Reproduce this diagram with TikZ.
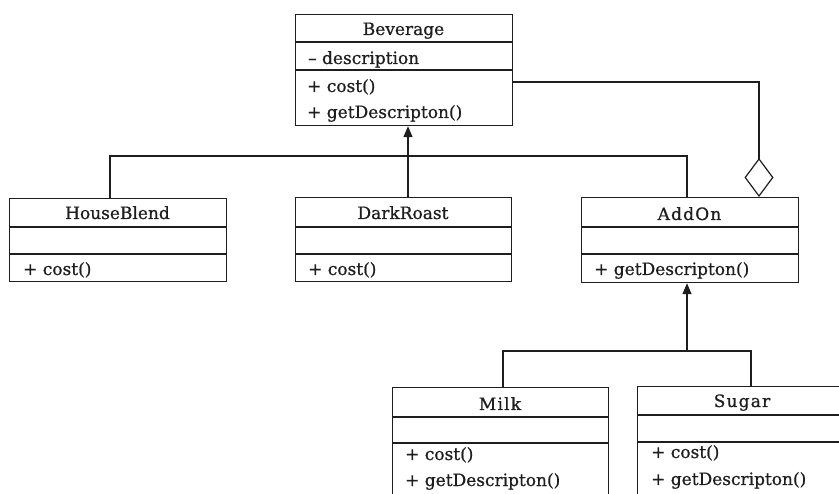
\documentclass[tikz,border=0pt]{standalone}
\usepackage{fontspec}
\setmainfont{DejaVu Serif}[FakeBold=0.8]
\usetikzlibrary{arrows.meta}

\definecolor{ink}{HTML}{1E1E1E}

\tikzset{
  umlbox/.style={draw=ink, line width=1.2pt, rectangle, anchor=north west, inner sep=0pt},
  sep/.style={draw=ink, line width=1.2pt},
  ttl/.style={anchor=base, inner sep=0pt, text=ink, font=\fontsize{17}{20}\selectfont},
  ttlsp/.style={anchor=base, inner sep=0pt, text=ink, font=\fontsize{17}{20}\selectfont\addfontfeature{LetterSpace=7}},
  mem/.style={anchor=base west, inner sep=0pt, text=ink, font=\fontsize{17}{20}\selectfont},
  conn/.style={draw=ink, line width=1.2pt},
  inh/.style={conn, -{Triangle[width=9pt,length=11pt]}},
  agg/.style={conn, -{Diamond[open,width=29pt,length=39pt]}}
}

\begin{document}
\begin{tikzpicture}[x=1pt,y=-1pt]
\useasboundingbox (0,0) rectangle (839,494);
\clip (0,0) rectangle (839,494);
\fill[white] (0,0) rectangle (839,494);

% Beverage
\node[umlbox, minimum width=217pt, minimum height=111pt] (bev) at (295,14) {};
\draw[sep] (295,42) -- (512,42);
\draw[sep] (295,70) -- (512,70);
\node[ttl] (bevt) at (403.5,35) {Beverage};
\node[mem] (bevm1) at (308,64) {\textendash\ description};
\node[mem] (bevm2) at (307,92) {+ cost()};
\node[mem] (bevm3) at (307,118) {+ getDescripton()};

% HouseBlend
\node[umlbox, minimum width=217pt, minimum height=83pt] (hb) at (9,198) {};
\draw[sep] (9,227) -- (226,227);
\draw[sep] (9,254) -- (226,254);
\node[ttl] (hbt) at (117.5,219) {HouseBlend};
\node[mem] (hbm1) at (23,275) {+ cost()};

% DarkRoast
\node[umlbox, minimum width=216pt, minimum height=84pt] (dr) at (295,197) {};
\draw[sep] (295,227) -- (511,227);
\draw[sep] (295,254) -- (511,254);
\node[ttl] (drt) at (403,219) {DarkRoast};
\node[mem] (drm1) at (308,275) {+ cost()};

% AddOn
\node[umlbox, minimum width=217pt, minimum height=85pt] (ao) at (581,197) {};
\draw[sep] (581,227) -- (798,227);
\draw[sep] (581,254) -- (798,254);
\node[ttlsp] (aot) at (689.5,220) {AddOn};
\node[mem] (aom1) at (594,275) {+ getDescripton()};

% Milk
\node[umlbox, minimum width=216pt, minimum height=130pt] (milk) at (392,387) {};
\draw[sep] (392,417) -- (608,417);
\draw[sep] (392,443) -- (608,443);
\node[ttlsp] (milkt) at (500,410) {Milk};
\node[mem] (milkm1) at (405,460) {+ cost()};
\node[mem] (milkm2) at (405,486) {+ getDescripton()};

% Sugar
\node[umlbox, minimum width=216pt, minimum height=130pt] (sug) at (637,386) {};
\draw[sep] (637,415) -- (853,415);
\draw[sep] (637,442) -- (853,442);
\node[ttlsp] (sugt) at (742,407) {Sugar};
\node[mem] (sugm1) at (651,458) {+ cost()};
\node[mem] (sugm2) at (651,485) {+ getDescripton()};

% Junction points of the connectors
\coordinate (hbj) at (110,156);
\coordinate (bevj) at (408,156);
\coordinate (aoj) at (687,156);
\coordinate (aggc) at (759,82);
\coordinate (subj) at (687,351);
\coordinate (milkj) at (503,351);
\coordinate (sugj) at (751,351);

% Generalisation: Beverage subclasses
\draw[conn] (hb.north -| hbj) -- (hbj) -- (aoj) -- (ao.north -| aoj);
\draw[conn] (dr.north -| bevj) -- (bevj);
\draw[inh] (bevj) -- (bev.south -| bevj);

% Aggregation: AddOn holds a Beverage
\draw[agg] (bev.east |- aggc) -- (aggc) -- (ao.north -| aggc);

% Generalisation: AddOn subclasses
\draw[conn] (milk.north -| milkj) -- (milkj) -- (sugj) -- (sug.north -| sugj);
\draw[inh] (subj) -- (ao.south -| subj);
\end{tikzpicture}
\end{document}
